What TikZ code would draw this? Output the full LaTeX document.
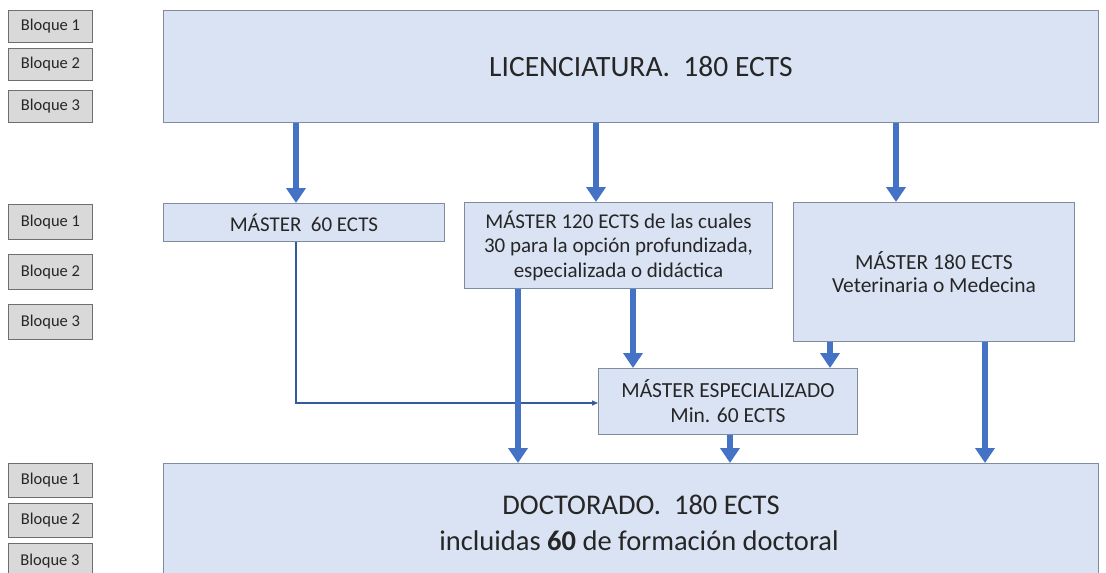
\documentclass[tikz,border=0pt]{standalone}
\usepackage{fontspec}
\setmainfont{Carlito}
\usetikzlibrary{arrows.meta}
\definecolor{boxfill}{HTML}{DAE3F3}
\definecolor{boxline}{HTML}{7F8CA0}
\definecolor{blqfill}{HTML}{D9D9D9}
\definecolor{blqline}{HTML}{6E6E6E}
\definecolor{arrblue}{HTML}{4472C4}
\begin{document}
\begin{tikzpicture}[x=1pt,y=-1pt,
  box/.style={draw=boxline, fill=boxfill, line width=1pt, anchor=north west, inner sep=0pt, align=center, text=black!85},
  blq/.style={draw=blqline, fill=blqfill, line width=1pt, anchor=north west, inner sep=0pt, minimum width=84pt, minimum height=32pt, font=\fontsize{16.5}{18}\selectfont, text=black!85},
  big/.style={draw=arrblue, line width=5.5pt, -{Triangle[length=15pt,width=19pt]}},
  thin/.style={draw=arrblue!80!black, line width=1.2pt, -{Triangle[length=6pt,width=5pt]}}
]
\useasboundingbox (0,0) rectangle (1106,573);
% Bloque boxes
\node[blq] (b11) at (8,10) {Bloque 1};
\node[blq] (b12) at (8,48) {Bloque 2};
\node[blq] (b13) at (8,90) {Bloque 3};
\node[blq, minimum height=35pt] (b21) at (8,204) {Bloque 1};
\node[blq, minimum height=35pt] (b22) at (8,254) {Bloque 2};
\node[blq, minimum height=35pt] (b23) at (8,304) {Bloque 3};
\node[blq, minimum height=34pt] (b31) at (8,463) {Bloque 1};
\node[blq, minimum height=34pt] (b32) at (8,503) {Bloque 2};
\node[blq, minimum height=40pt] (b33) at (8,543) {};
\node[font=\fontsize{16.5}{18}\selectfont, text=black!85] (b33t) at (50,561) {Bloque 3};
% main boxes
\node[box, minimum width=935pt, minimum height=112pt, font=\fontsize{29.5}{34}\selectfont] (lic) at (163,10) {\hspace*{20pt}LICENCIATURA.\ \ 180 ECTS};
\node[box, minimum width=281pt, minimum height=38pt, font=\fontsize{21}{24}\selectfont] (m60) at (163,203) {MÁSTER\ \ 60 ECTS};
\node[box, minimum width=308pt, minimum height=86pt, font=\fontsize{21}{24.5}\selectfont] (m120) at (464,202) {MÁSTER 120 ECTS de las cuales\\30 para la opción profundizada,\\especializada o didáctica};
\node[box, minimum width=281pt, minimum height=139pt, font=\fontsize{21.5}{23.5}\selectfont] (m180) at (793,202) {MÁSTER 180 ECTS\\Veterinaria o Medecina};
\node[box, minimum width=259pt, minimum height=66pt, font=\fontsize{21.5}{25}\selectfont] (mesp) at (598,368) {MÁSTER ESPECIALIZADO\\Min. 60 ECTS};
\node[box, minimum width=935pt, minimum height=118pt, font=\fontsize{28.5}{36}\selectfont] (doc) at (163,463) {\hspace*{20pt}DOCTORADO.\ \ 180 ECTS\\\hspace*{16pt}incluidas \textbf{60} de formación doctoral};
% arrows from licenciatura
\draw[big] (lic.south -| 296,0) -- (m60.north -| 296,0);
\draw[big] (lic.south -| 596,0) -- (m120.north -| 596,0);
\draw[big] (lic.south -| 896,0) -- (m180.north -| 896,0);
% thin connector
\coordinate (corner) at (296,403);
\draw[thin] (m60.south -| corner) -- (corner) -- (mesp.west |- corner);
% arrows to especializado / doctorado
\draw[big] (m120.south -| 518,0) -- (doc.north -| 518,0);
\draw[big] (m120.south -| 633,0) -- (mesp.north -| 633,0);
\draw[big] (m180.south -| 830,0) -- (mesp.north -| 830,0);
\draw[big] (m180.south -| 985,0) -- (doc.north -| 985,0);
\draw[big] (mesp.south -| 730,0) -- (doc.north -| 730,0);
\end{tikzpicture}
\end{document}
